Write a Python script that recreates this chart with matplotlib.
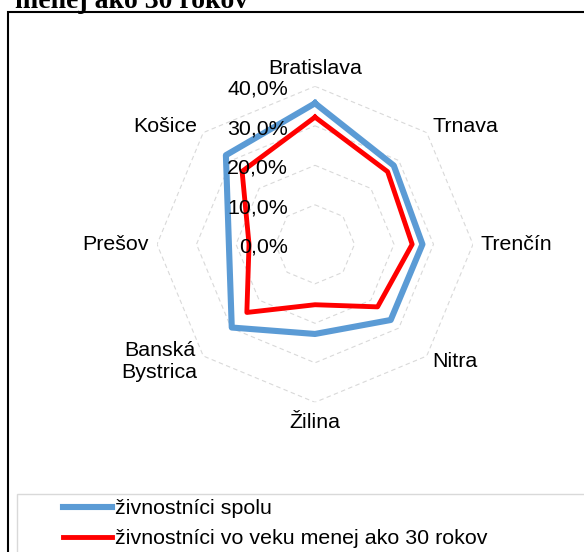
import numpy as np
import matplotlib
matplotlib.use("Agg")
import matplotlib.pyplot as plt
from matplotlib.patches import Rectangle

plt.rcParams['font.family'] = ['Liberation Sans', 'DejaVu Sans']

# data (percent)
regions = ["Bratislava", "Trnava", "Trenčín", "Nitra", "Žilina",
           "Banská\nBystrica", "Prešov", "Košice"]
spolu = [35.7, 28.2, 27.2, 27.1, 22.7, 29.8, 21.8, 31.9]
do30 = [32.2, 26.0, 24.6, 22.4, 15.3, 24.4, 16.7, 26.1]
rings = [10, 20, 30, 40]
ring_labels = ["0,0%", "10,0%", "20,0%", "30,0%", "40,0%"]
ring_values = [0, 10, 20, 30, 40]
series_names = ["živnostníci spolu", "živnostníci vo veku menej ako 30 rokov"]

W, H = 584, 552
FS = 15.4
fig = plt.figure(figsize=(W / 100, H / 100), dpi=100)

# outer chart frame (cut by the image edge on the right/bottom)
fig.patches.append(Rectangle((8 / W, -0.1), 1.2, (H - 12) / H + 0.1,
                             transform=fig.transFigure, fill=False,
                             edgecolor="black", lw=1.5, clip_on=False))
# title, mostly cut off at the top like in the source page
fig.text(15 / W, (H - 7.5) / H, "menej ako 30 rokov", family="Liberation Serif",
         weight="bold", fontsize=20, ha="left", va="baseline")

cx, cy, R = 315, 244.3, 158
ax = fig.add_axes([(cx - R) / W, (H - cy - R) / H, 2 * R / W, 2 * R / H],
                  projection="polar")
ax.set_theta_offset(np.pi / 2)
ax.set_theta_direction(-1)
ax.set_ylim(0, 40)
ax.axis("off")

n = len(regions)
theta = np.arange(n) * 2 * np.pi / n
tc = np.append(theta, theta[0])

for r in rings:
    ax.plot(tc, [r] * (n + 1), color="#D9D9D9", lw=0.8, ls=(0, (4, 3)), zorder=1)

ax.plot(tc, spolu + spolu[:1], color="#5B9BD5", lw=4.4, solid_joinstyle="round",
        label=series_names[0], zorder=3)
ax.plot(tc, do30 + do30[:1], color="#FF0000", lw=3.5, solid_joinstyle="round",
        label=series_names[1], zorder=4)

for t, name in zip(theta, regions):
    s = np.sin(t)
    c = np.cos(t)
    rr = 42
    if abs(s) < 1e-6:
        ha = "center"
        va = "bottom" if c > 0 else "top"
        if c < 0:
            rr = 42.8
    else:
        ha = "left" if s > 0 else "right"
        va = "center"
    ax.text(t, rr, name, ha=ha, va=va, fontsize=FS, multialignment="center",
            linespacing=1.25)

for v, lab in zip(ring_values, ring_labels):
    ax.annotate(lab, xy=(0, v), xytext=(-27, -3), textcoords="offset pixels",
                ha="right", va="center", fontsize=FS, zorder=5)

# legend with its own frame
fig.patches.append(Rectangle((17 / W, -0.1), 1.2, (H - 494) / H + 0.1,
                             transform=fig.transFigure, fill=False,
                             edgecolor="#D9D9D9", lw=1.0, clip_on=False))
h, l = ax.get_legend_handles_labels()
fig.legend(h, l, loc="upper left", bbox_to_anchor=(63 / W, (H - 499) / H),
           frameon=False, fontsize=FS, handlelength=2.3, handletextpad=0.15,
           labelspacing=0.52, borderpad=0, borderaxespad=0)

fig.savefig("out.png", dpi=100)
